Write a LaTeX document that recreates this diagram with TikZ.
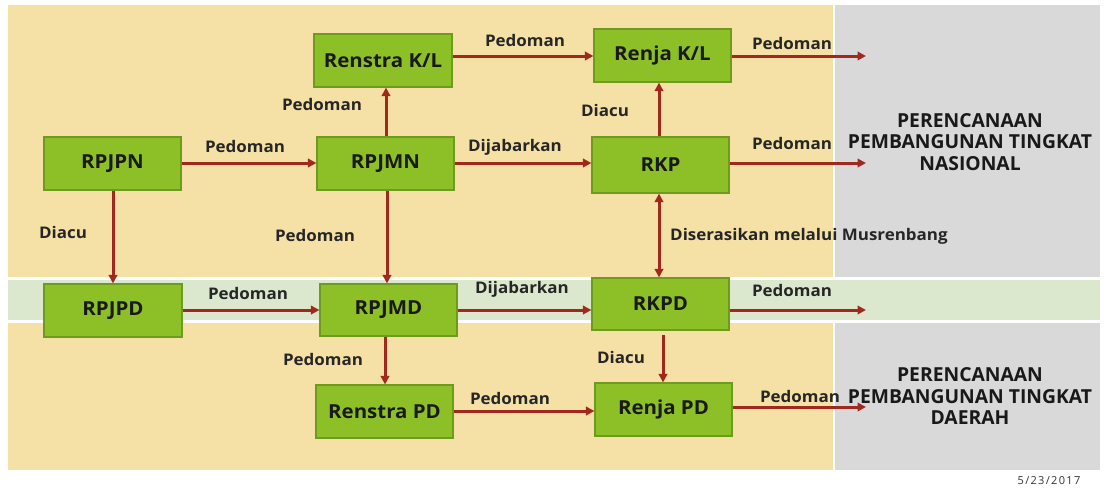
\documentclass[tikz,border=0pt]{standalone}
\usepackage{fontspec}
\setmainfont{Open Sans}
\newfontfamily\wfont[FakeStretch=1.06]{Open Sans}
\newfontfamily\datefont[LetterSpace=12]{Open Sans}
\usetikzlibrary{arrows.meta}
\definecolor{tanbg}{HTML}{F5E1A5}
\definecolor{graybg}{HTML}{D9D9D9}
\definecolor{greenband}{HTML}{DCE8CD}
\definecolor{boxgreen}{HTML}{8DC026}
\definecolor{boxedge}{HTML}{6F9A22}
\definecolor{arrowred}{HTML}{A1281C}
\tikzset{
  box/.style={draw=boxedge, line width=1.2pt, fill=boxgreen, minimum width=137pt, minimum height=53pt, inner sep=0pt, font=\wfont\bfseries\fontsize{19.3}{22}\selectfont, text=black!90},
  conn/.style={draw=arrowred, line width=3pt, -{Triangle[length=8.5pt,width=8.5pt]}},
  lbl/.style={inner sep=0pt, font=\wfont\bfseries\fontsize{16}{19}\selectfont, text=black!85},
  title/.style={align=center, inner sep=0pt, font=\bfseries\fontsize{19.3}{21.5}\selectfont, text=black!90}
}
\begin{document}
\begin{tikzpicture}[x=1pt,y=-1pt]
\useasboundingbox (0,0) rectangle (1106,491);
\fill[white] (0,0) rectangle (1106,491);
% backgrounds
\fill[tanbg] (8,5) rectangle (833,470);
\fill[graybg] (835,5) rectangle (1100,470);
\fill[white] (8,276.5) rectangle (1100,279.5);
\fill[greenband] (8,279.5) rectangle (1100,320);
\fill[white] (8,320) rectangle (1100,323);
% boxes
\node[box] (rpjpn) at (112.5,163.5) {RPJPN};
\node[box, minimum width=138pt] (renstrakl) at (383,60.5) {Renstra K/L};
\node[box] (rpjmn) at (385.5,163.5) {RPJMN};
\node[box] (renjakl) at (662.5,55.5) {Renja K/L};
\node[box, minimum height=56pt] (rkp) at (660.5,165) {RKP};
\node[box, minimum width=138pt] (rpjpd) at (113,310.5) {RPJPD};
\node[box, minimum height=52pt] (rpjmd) at (388.5,310) {RPJMD};
\node[box, minimum height=52pt] (rkpd) at (660.5,304) {RKPD};
\node[box] (renstrapd) at (384.5,411.5) {Renstra PD};
\node[box] (renjapd) at (663.5,409.5) {Renja PD};
% free ends
\coordinate (out1) at (866,56);
\coordinate (out2) at (866,163);
\coordinate (out3) at (866,310);
\coordinate (out4) at (866,407);
% connectors
\draw[conn] (rpjpn.east |- 0,163) -- (rpjmn.west |- 0,163);
\draw[conn] (rpjmn.north -| 386,0) -- (renstrakl.south -| 386,0);
\draw[conn] (renstrakl.east |- 0,56) -- (renjakl.west |- 0,56);
\draw[conn] (rpjmn.east |- 0,163) -- (rkp.west |- 0,163);
\draw[conn] (rkp.north -| 659,0) -- (renjakl.south -| 659,0);
\draw[conn] (renjakl.east |- out1) -- (out1);
\draw[conn] (rkp.east |- out2) -- (out2);
\draw[conn, {Triangle[length=8.5pt,width=8.5pt]}-{Triangle[length=8.5pt,width=8.5pt]}] (rkp.south -| 659,0) -- (rkpd.north -| 659,0);
\draw[conn] (rpjpn.south -| 113,0) -- (rpjpd.north -| 113,0);
\draw[conn] (rpjmn.south -| 387,0) -- (rpjmd.north -| 387,0);
\draw[conn] (rpjpd.east |- 0,310) -- (rpjmd.west |- 0,310);
\draw[conn] (rpjmd.east |- 0,310) -- (rkpd.west |- 0,310);
\draw[conn] (rkpd.east |- out3) -- (out3);
\draw[conn] (rpjmd.south -| 385,0) -- (renstrapd.north -| 385,0);
\draw[conn, shorten <=4pt] (rkpd.south -| 663,0) -- (renjapd.north -| 663,0);
\draw[conn] (renstrapd.east |- 0,411) -- (renjapd.west |- 0,411);
\draw[conn] (renjapd.east |- out4) -- (out4);
% labels
\node[lbl] (l1) at (245,146) {Pedoman};
\node[lbl] (l2) at (322,104) {Pedoman};
\node[lbl] (l3) at (525,40) {Pedoman};
\node[lbl] (l4) at (515,147) {Dijabarkan};
\node[lbl] (l5) at (605,110) {Diacu};
\node[lbl] (l6) at (792,43) {Pedoman};
\node[lbl] (l7) at (792,143) {Pedoman};
\node[lbl, anchor=west] (l8) at (670,236) {Diserasikan melalui Musrenbang};
\node[lbl] (l9) at (63,232) {Diacu};
\node[lbl] (l10) at (315,235) {Pedoman};
\node[lbl] (l11) at (248,293) {Pedoman};
\node[lbl] (l12) at (522,289) {Dijabarkan};
\node[lbl] (l13) at (792,290) {Pedoman};
\node[lbl] (l14) at (323,359) {Pedoman};
\node[lbl] (l15) at (621,357) {Diacu};
\node[lbl] (l16) at (510,398) {Pedoman};
\node[lbl] (l17) at (800,396) {Pedoman};
% titles
\node[title] (tn) at (970,142) {PERENCANAAN\\PEMBANGUNAN TINGKAT\\NASIONAL};
\node[title] (td) at (970,396.5) {PERENCANAAN\\PEMBANGUNAN TINGKAT\\DAERAH};
\node[inner sep=0pt, font=\datefont\fontsize{11}{13}\selectfont, text=black!80] (date) at (1049,481) {5/23/2017};
\end{tikzpicture}
\end{document}
